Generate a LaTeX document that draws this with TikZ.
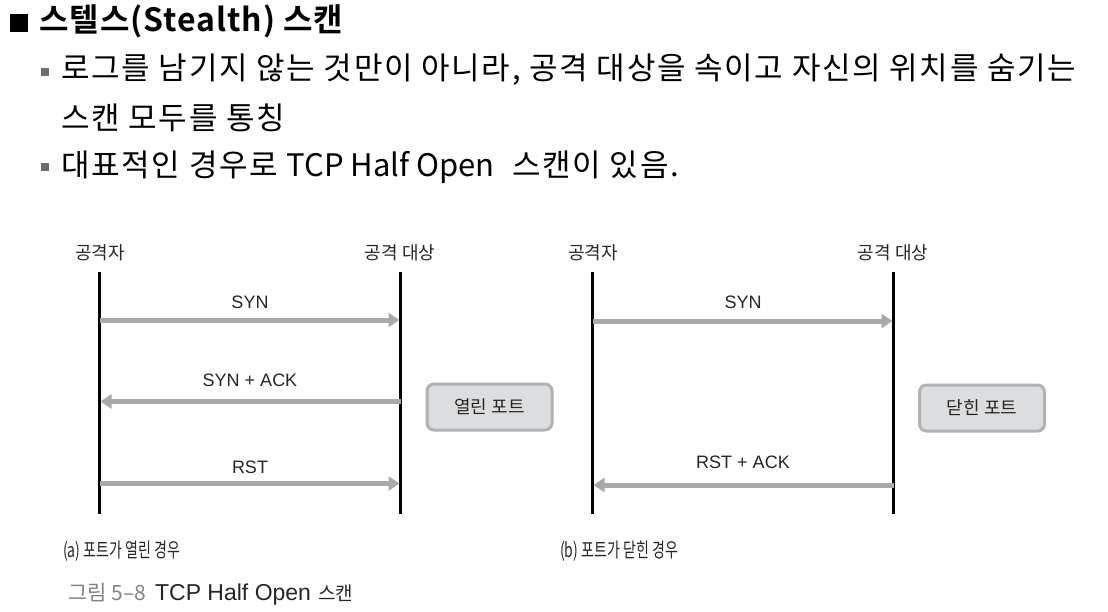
\documentclass[tikz,border=0pt]{standalone}
\usepackage{fontspec}
\setmainfont{Noto Sans CJK KR}
\newfontfamily\krfont{Noto Sans CJK KR}
\newfontfamily\krbody[LetterSpace=5.5]{Noto Sans CJK KR}
\newfontfamily\krbold[LetterSpace=3]{Noto Sans CJK KR Bold}
\newfontfamily\krcond[FakeStretch=0.7]{Noto Sans CJK KR}
\newfontfamily\latinfont{Liberation Sans}
\usetikzlibrary{arrows.meta}
\definecolor{arrgray}{HTML}{A7A9AC}
\definecolor{boxfill}{HTML}{DCDDDE}
\definecolor{boxline}{HTML}{AFB1B3}
\definecolor{bulgray}{HTML}{6D6E71}
\definecolor{capgray}{HTML}{808285}
\begin{document}
\begin{tikzpicture}[x=1pt,y=-1pt,
  bodytext/.style={anchor=west,inner sep=0pt,font=\krbody\fontsize{31}{31}\selectfont,text=black},
  lifeline/.style={line width=3pt,black},
  msg/.style={line width=5pt,arrgray,-{Triangle[length=11pt,width=14pt]},shorten >=1pt},
  msglabel/.style={inner sep=0pt,font=\latinfont\fontsize{18}{18}\selectfont,text=black!85},
  actor/.style={inner sep=0pt,font=\krfont\fontsize{18}{18}\selectfont,text=black!85},
  portbox/.style={draw=boxline,fill=boxfill,line width=3pt,rounded corners=7pt,minimum width=125pt,minimum height=46pt,inner sep=0pt,font=\krfont\fontsize{18}{18}\selectfont,text=black!85},
  caption/.style={anchor=west,inner sep=0pt,font=\krcond\fontsize{20}{20}\selectfont,text=black!85},
  figcap/.style={anchor=west,inner sep=0pt,text=black!85},
  sqbullet/.style={fill=bulgray,minimum size=8pt,inner sep=0pt}
]
\useasboundingbox (0,0) rectangle (1108,611);
\fill[white] (0,0) rectangle (1108,611);

% title
\node[fill=black,minimum size=18pt,inner sep=0pt] (tsq) at (19,23) {};
\node[anchor=west,inner sep=0pt,font=\krbold\fontsize{32}{32}\selectfont] (title) at (39,21) {스텔스(Stealth) 스캔};

% bullets
\node[sqbullet] (b1) at (45,72) {};
\node[bodytext] (l1) at (61,70) {로그를 남기지 않는 것만이 아니라, 공격 대상을 속이고 자신의 위치를 숨기는};
\node[bodytext] (l2) at (61,118) {스캔 모두를 통칭};
\node[sqbullet] (b2) at (45,167) {};
\node[bodytext] (l3) at (61,167) {대표적인 경우로 {\krfont TCP Half Open}\ \ 스캔이 있음.};

% ---------- diagram (a)
\node[actor] (aA) at (100,253) {공격자};
\node[actor] (aT) at (400,253) {공격 대상};
\coordinate (aLt) at (99.5,272);
\coordinate (aLb) at (99.5,514);
\coordinate (aRt) at (400.5,272);
\coordinate (aRb) at (400.5,514);
\draw[lifeline] (aLt) -- (aLb);
\draw[lifeline] (aRt) -- (aRb);
\coordinate (a1s) at (99.5,320);  \coordinate (a1e) at (400.5,320);
\coordinate (a2s) at (400.5,401.5); \coordinate (a2e) at (99.5,401.5);
\coordinate (a3s) at (99.5,483.5);  \coordinate (a3e) at (400.5,483.5);
\draw[msg] (a1s) -- (a1e);
\draw[msg] (a2s) -- (a2e);
\draw[msg] (a3s) -- (a3e);
\node[msglabel] (a1l) at (250,302) {SYN};
\node[msglabel] (a2l) at (250,380) {SYN + ACK};
\node[msglabel] (a3l) at (250,467) {RST};
\node[portbox] (aBox) at (489.5,407) {열린 포트};

% ---------- diagram (b)
\node[actor] (bA) at (593,253) {공격자};
\node[actor] (bT) at (893,253) {공격 대상};
\coordinate (bLt) at (592.5,272);
\coordinate (bLb) at (592.5,514);
\coordinate (bRt) at (893.5,272);
\coordinate (bRb) at (893.5,514);
\draw[lifeline] (bLt) -- (bLb);
\draw[lifeline] (bRt) -- (bRb);
\coordinate (b1s) at (592.5,321);  \coordinate (b1e) at (893.5,321);
\coordinate (b2s) at (893.5,485); \coordinate (b2e) at (592.5,485);
\draw[msg] (b1s) -- (b1e);
\draw[msg] (b2s) -- (b2e);
\node[msglabel] (b1l) at (743,302) {SYN};
\node[msglabel] (b2l) at (743,462) {RST + ACK};
\node[portbox] (bBox) at (982,408) {닫힌 포트};

% captions
\node[caption] (capa) at (63,551) {(a)\,포트가 열린 경우};
\node[caption] (capb) at (560,551) {(b)\,포트가 닫힌 경우};
\node[figcap] (fig) at (68,594) {{\krfont\fontsize{21}{21}\selectfont\color{capgray}그림 5–8}\hspace{9pt}{\latinfont\fontsize{23}{23}\selectfont TCP Half Open}\hspace{7pt}{\krfont\fontsize{19}{19}\selectfont 스캔}};
\end{tikzpicture}
\end{document}
